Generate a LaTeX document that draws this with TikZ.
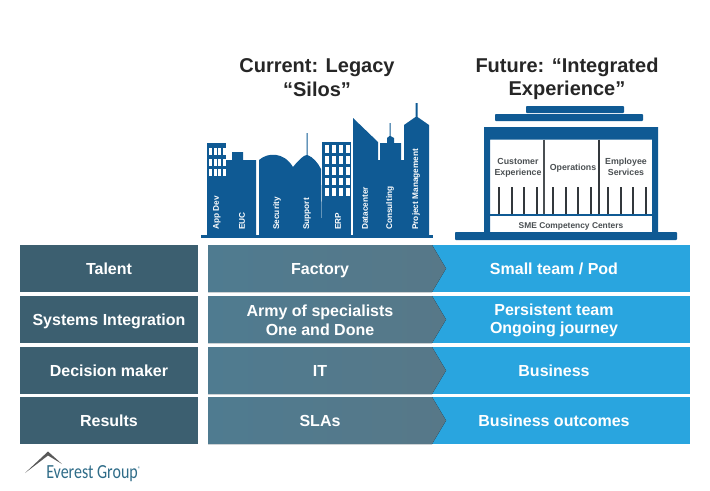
\documentclass[tikz,border=0pt]{standalone}
\usepackage{fontspec}
\setmainfont{Liberation Sans}
\newfontfamily\logofont[FakeStretch=0.8]{Carlito}
\definecolor{rowdark}{HTML}{3C5F70}
\definecolor{rowmidleft}{HTML}{4F7B90}
\definecolor{rowmidright}{HTML}{577888}
\definecolor{rowblue}{HTML}{29A5DF}
\definecolor{towerblue}{HTML}{0F5A94}
\definecolor{pillargray}{HTML}{33383C}
\definecolor{labelgray}{HTML}{4A4F52}
\definecolor{logoteal}{HTML}{2F6C88}
\tikzset{
	rowlabel/.style={fill=rowdark, text=white, inner sep=0pt, minimum width=133.5pt, minimum height=35.25pt, text height=8.6pt, text depth=0pt, font=\fontsize{12}{14}\selectfont\bfseries},
	rowtext/.style={text=white, inner sep=0pt, text height=8.6pt, text depth=0pt, font=\fontsize{12}{14}\selectfont\bfseries},
	rowtwolines/.style={text=white, inner sep=0pt, align=center, font=\fontsize{12}{14}\selectfont\bfseries},
	title/.style={text=black!85, inner sep=0pt, align=center, font=\fontsize{15}{17.5}\selectfont\bfseries},
	towerlabel/.style={text=white, inner sep=0pt, rotate=90, anchor=west, font=\fontsize{6.2}{7}\selectfont\bfseries},
	halllabel/.style={text=labelgray, inner sep=0pt, align=center, font=\fontsize{6.6}{8.25}\selectfont\bfseries},
	window/.style={fill=white},
	pillar/.style={draw=pillargray, line width=2.2pt},
}
\begin{document}
\begin{tikzpicture}[x=0.75pt, y=-0.75pt]

\useasboundingbox (0,0) rectangle (710,490);

\newcommand\midX{320};
\newcommand\rightX{554};

% Titles
\node [title] (title_current) at (317, 77.5) {Current: Legacy\\``Silos''};
\node [title] (title_future) at (567, 78.5) {Future: ``Integrated\\Experience''};

% Skyline
\fill[towerblue] (201, 234.5) rectangle (433, 237.5);
\fill[towerblue] (207, 143) rectangle (226, 235);
\fill[towerblue] (226, 235) -- (226, 160) -- (232, 160) -- (232, 152) -- (243, 152) -- (243, 160) -- (256, 160) -- (256, 235) -- cycle;
\fill[towerblue] (259, 235) -- (259, 160) .. controls (268, 152) and (284, 152) .. (293, 167)
	.. controls (297, 162) and (301, 158) .. (304, 156) -- (306.5, 155) -- (306.5, 133) -- (307.5, 133) -- (307.5, 155)
	.. controls (313, 157) and (318, 163) .. (321, 169) -- (322, 235) -- cycle;
\fill[towerblue] (322, 142) rectangle (351, 235);
\fill[towerblue] (353, 235) -- (353, 118) -- (378, 142) -- (378, 160) -- (380, 160) -- (380, 143) -- (387, 143) -- (387, 138)
	-- (389.5, 136) -- (389.5, 123) -- (390.5, 123) -- (390.5, 136) -- (394, 138) -- (394, 143) -- (401, 143) -- (401, 160) -- (404, 160)
	-- (404, 125) -- (415.5, 117) -- (415.5, 103) -- (417.5, 103) -- (417.5, 117) -- (429, 125) -- (429, 235) -- cycle;

% Windows
\foreach \wY in {147.5, 158.5, 168.5} {
	\foreach \wX in {209, 213.5, 218, 222.5} {
		\fill[window] (\wX, \wY) rectangle ++(3, 7);
	}
}
\foreach \wY in {145, 156, 167, 177.5, 188} {
	\foreach \wX in {324.5, 331.5, 338.5, 345.5} {
		\fill[window] (\wX, \wY) rectangle ++(4.5, 7.5);
	}
}

% Tower labels
\node [towerlabel] (tower_appdev) at (217, 230) {App Dev};
\node [towerlabel] (tower_euc) at (242, 230) {EUC};
\node [towerlabel] (tower_security) at (277, 230) {Security};
\node [towerlabel] (tower_support) at (307, 230) {Support};
\node [towerlabel] (tower_erp) at (338, 230) {ERP};
\node [towerlabel] (tower_datacenter) at (365, 230) {Datacenter};
\node [towerlabel] (tower_consulting) at (390, 230) {Consulting};
\node [towerlabel] (tower_project) at (416, 230) {Project Management};

% Hall
\fill[towerblue, rounded corners=0.6pt] (526, 106) rectangle (624, 113);
\fill[towerblue, rounded corners=0.6pt] (495, 114) rectangle (643, 121);
\fill[towerblue, even odd rule] (484, 127) rectangle (658, 232) (490, 139.5) rectangle (652, 232);
\fill[towerblue, rounded corners=0.6pt] (455, 232) rectangle (677, 240);

% Hall dividers
\draw[labelgray, line width=0.9pt] (544, 139.5) -- (544, 215);
\draw[pillargray, line width=0.9pt] (599, 139.5) -- (599, 215);

% Pillars
\foreach \pX in {499, 512, 524, 537, 553, 566, 578, 591, 608, 621, 633, 646} {
	\draw[pillar] (\pX, 187) -- (\pX, 215);
}
\draw[towerblue, line width=1.1pt] (490, 215) -- (652, 215);

% Hall labels
\node [halllabel] (hall_customer) at (518, 168) {Customer\\Experience};
\node [halllabel] (hall_operations) at (573, 168) {Operations};
\node [halllabel] (hall_employee) at (626, 167) {Employee\\Services};
\node [halllabel, font=\fontsize{6.3}{8}\selectfont\bfseries] (hall_sme) at (571, 226) {SME Competency Centers};

% Talent
\node [rowlabel] (row_talent) at (109, 268.5) {Talent};
\fill[rowblue] (430, 245) rectangle (690, 292);
\fill[left color=rowmidleft, right color=rowmidright] (208, 245) -- (432, 245) -- (446, 268.5) -- (432, 292) -- (208, 292) -- cycle;
\node [rowtext] (mid_talent) at (\midX, 269) {Factory};
\node [rowtext] (right_talent) at (\rightX, 269) {Small team / Pod};

% Systems integration
\node [rowlabel] (row_systems) at (109, 319.5) {Systems Integration};
\fill[rowblue] (430, 296) rectangle (690, 343);
\fill[left color=rowmidleft, right color=rowmidright] (208, 296) -- (432, 296) -- (446, 319.5) -- (432, 343) -- (208, 343) -- cycle;
\node [rowtwolines] (mid_systems) at (\midX, 320) {Army of specialists\\One and Done};
\node [rowtwolines] (right_systems) at (\rightX, 320.5) {Persistent team\\Ongoing journey};

% Decision maker
\node [rowlabel] (row_decision) at (109, 370.5) {Decision maker};
\fill[rowblue] (430, 347) rectangle (690, 394);
\fill[left color=rowmidleft, right color=rowmidright] (208, 347) -- (432, 347) -- (446, 370.5) -- (432, 394) -- (208, 394) -- cycle;
\node [rowtext] (mid_decision) at (\midX, 370.5) {IT};
\node [rowtext] (right_decision) at (\rightX, 370.5) {Business};

% Results
\node [rowlabel] (row_results) at (109, 420.5) {Results};
\fill[rowblue] (430, 397) rectangle (690, 444);
\fill[left color=rowmidleft, right color=rowmidright] (208, 397) -- (432, 397) -- (446, 420.5) -- (432, 444) -- (208, 444) -- cycle;
\node [rowtext] (mid_results) at (\midX, 421) {SLAs};
\node [rowtext] (right_results) at (\rightX, 421) {Business outcomes};

% Logo
\fill[black!65] (25, 473) -- (48, 451.5) -- (62, 464) -- (48, 455.5) -- cycle;
\node [text=logoteal, inner sep=0pt, anchor=west, font=\logofont\fontsize{15}{17}\selectfont] (logo_text) at (46, 474) {Everest Group\textsuperscript{\tiny\textregistered}};

\end{tikzpicture}
\end{document}
